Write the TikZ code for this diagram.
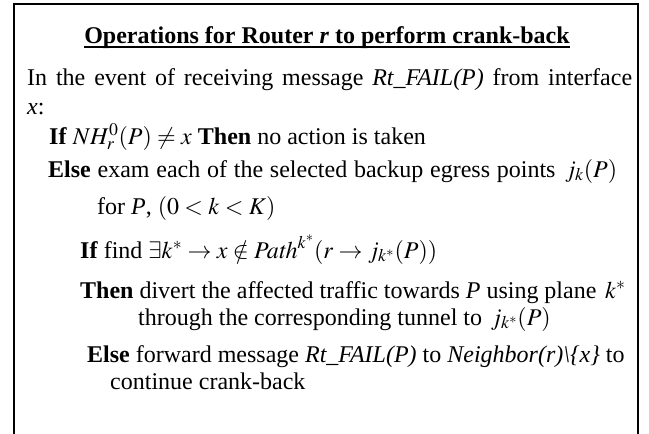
\documentclass[tikz,border=0pt]{standalone}
\usepackage{mathptmx}
\usepackage[no-math]{fontspec}
\setmainfont{Liberation Serif}
\begin{document}
\begin{tikzpicture}[x=1pt,y=-1pt,
  txt/.style={anchor=base west, inner sep=0pt, font=\fontsize{24}{28}\selectfont},
  frame/.style={line width=2pt},
  uline/.style={line width=1.6pt}]
\useasboundingbox (0,0) rectangle (649,434);
\draw[frame] (14,434) -- (14,4) -- (638,4) -- (638,434);
\node[txt, anchor=base] (title) at (327,43) {\textbf{Operations for Router \textit{r} to perform crank-back}};
\draw[uline] ([yshift=-4pt]title.base west) -- ([yshift=-4pt]title.base east);
\node[txt] (l1) at (27,85) {\hbox to 605pt{In the event of receiving message \textit{Rt\_FAIL(P)} from interface}};
\node[txt] (l2) at (27,114) {\textit{x}:};
\node[txt] (l3) at (49,144) {\textbf{If} $NH_r^0(P)\neq x$ \textbf{Then} no action is taken};
\node[txt] (l4) at (48,177) {\hbox to 569pt{\textbf{Else} exam each of the selected backup egress points $\,j_k(P)$}};
\node[txt] (l5) at (97,214) {for \textit{P}, $(0<k<K)$};
\node[txt] (l6) at (80,258) {\textbf{If} find $\exists k^*\to x\notin \mathit{Path}^{k^*}(r\to j_{k^*}(P))$};
\node[txt] (l7) at (80,298) {\textbf{Then} divert the affected traffic towards \textit{P} using plane $\,k^*$};
\node[txt] (l8) at (138,325) {through the corresponding tunnel to $\,j_{k^*}(P)$};
\node[txt] (l9) at (87,362) {\textbf{Else} forward message \textit{Rt\_FAIL(P)} to \textit{Neighbor(r)\textbackslash\{x\}} to};
\node[txt] (l10) at (110,389) {continue crank-back};
\end{tikzpicture}
\end{document}
